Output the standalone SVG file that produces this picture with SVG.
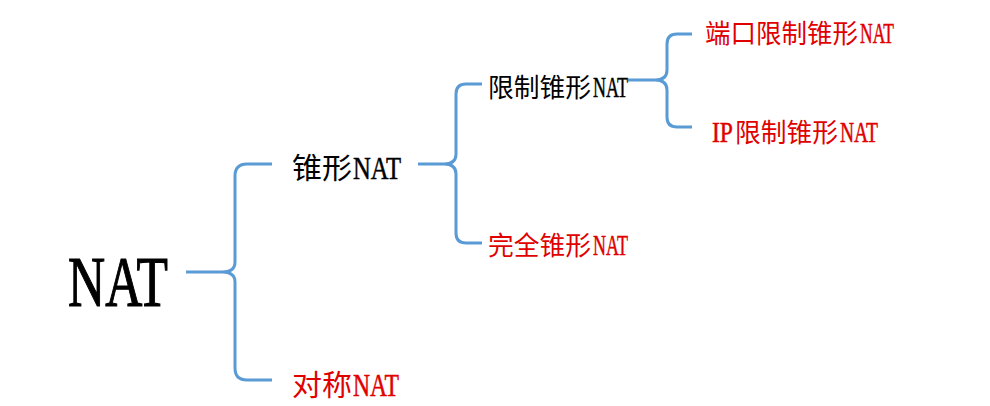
<svg xmlns="http://www.w3.org/2000/svg" width="990" height="406" viewBox="0 0 990 406">
<style>
.br{fill:none;stroke:#5B9BD5;stroke-width:3;stroke-linecap:butt;stroke-linejoin:round}
text{font-family:"Liberation Serif","Noto Sans CJK SC",serif}
tspan{font-family:"Liberation Serif","Noto Sans CJK SC",serif}
.k{fill:#000}
.r{fill:#E00000}
.k .lat{stroke:#000;stroke-width:0.5}
.r .lat{stroke:#E00000;stroke-width:0.5}
</style>
<rect width="990" height="406" fill="#fff"/>
<g id="connectors">
<path class="br" d="M186,272 L222,272 Q235,272 235,262 L235,176 Q235,164 247,164 L272,164 M222,272 Q235,272 235,282 L235,368 Q235,380 247,380 L272,380"/>
<path class="br" d="M418,164 L444,164 Q456,164 456,154 L456,94 Q456,84 466,84 L482,84 M444,164 Q456,164 456,174 L456,233 Q456,243 466,243 L482,243"/>
<path class="br" d="M628,80 L655,80 Q667,80 667,70 L667,44 Q667,34 677,34 L692,34 M655,80 Q667,80 667,90 L667,117 Q667,127 677,127 L692,127"/>
</g>
<g id="n-nat"><text class="k" x="68" y="306" font-size="72" stroke="#000" stroke-width="1.2" textLength="100" lengthAdjust="spacingAndGlyphs">NAT</text></g>
<g id="n-cone"><text class="k" y="179"><tspan x="292" font-size="29" textLength="60" lengthAdjust="spacingAndGlyphs">锥形</tspan><tspan class="lat" x="353" font-size="32" textLength="48" lengthAdjust="spacingAndGlyphs">NAT</tspan></text></g>
<g id="n-sym"><text class="r" y="396"><tspan x="292" font-size="29" textLength="60" lengthAdjust="spacingAndGlyphs">对称</tspan><tspan class="lat" x="353" font-size="32" textLength="46" lengthAdjust="spacingAndGlyphs">NAT</tspan></text></g>
<g id="n-restricted"><text class="k" y="97"><tspan x="488" font-size="26" textLength="103" lengthAdjust="spacingAndGlyphs">限制锥形</tspan><tspan class="lat" x="593" font-size="30" textLength="35" lengthAdjust="spacingAndGlyphs">NAT</tspan></text></g>
<g id="n-full"><text class="r" y="255"><tspan x="488" font-size="26" textLength="103" lengthAdjust="spacingAndGlyphs">完全锥形</tspan><tspan class="lat" x="593" font-size="30" textLength="35" lengthAdjust="spacingAndGlyphs">NAT</tspan></text></g>
<g id="n-port"><text class="r" y="43"><tspan x="705" font-size="26" textLength="153" lengthAdjust="spacingAndGlyphs">端口限制锥形</tspan><tspan class="lat" x="860" font-size="29" textLength="34" lengthAdjust="spacingAndGlyphs">NAT</tspan></text></g>
<g id="n-ip"><text class="r" y="142"><tspan class="lat" x="712" font-size="29" textLength="21" lengthAdjust="spacingAndGlyphs">IP</tspan><tspan x="735" font-size="26" textLength="103" lengthAdjust="spacingAndGlyphs">限制锥形</tspan><tspan class="lat" x="840" font-size="29" textLength="38" lengthAdjust="spacingAndGlyphs">NAT</tspan></text></g>
</svg>
